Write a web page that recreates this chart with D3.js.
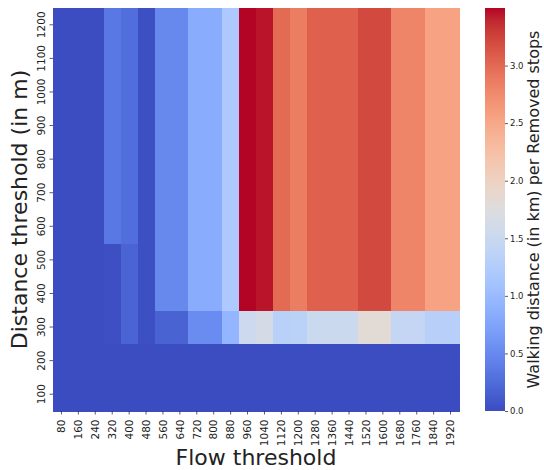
<!DOCTYPE html>
<html>
<head>
<meta charset="utf-8">
<script src="https://cdn.jsdelivr.net/npm/d3@7"></script>
<style>
  body { margin: 0; background: #fff; }
  text { font-family: "DejaVu Sans", sans-serif; fill: #222; }
</style>
</head>
<body>
<svg id="chart" width="544" height="470"></svg>
<script>
// Flow thresholds (columns) and distance thresholds in metres (rows)
const flowThresholds = [80, 160, 240, 320, 400, 480, 560, 640, 720, 800, 880, 960,
  1040, 1120, 1200, 1280, 1360, 1440, 1520, 1600, 1680, 1760, 1840, 1920];
const distanceThresholds = [100, 200, 300, 400, 500, 600, 700, 800, 900, 1000, 1100, 1200];

// Walking distance (km) per removed stop, one array per distance threshold
const walk100  = [0.00, 0.00, 0.00, 0.00, 0.00, 0.00, 0.00, 0.00, 0.00, 0.00, 0.00, 0.00, 0.00, 0.00, 0.00, 0.00, 0.00, 0.00, 0.00, 0.00, 0.00, 0.00, 0.00, 0.00];
const walk200  = [0.01, 0.01, 0.01, 0.01, 0.01, 0.01, 0.01, 0.01, 0.01, 0.01, 0.01, 0.01, 0.01, 0.01, 0.01, 0.01, 0.01, 0.01, 0.01, 0.01, 0.01, 0.01, 0.01, 0.01];
const walk300  = [0.01, 0.01, 0.01, 0.02, 0.19, 0.03, 0.18, 0.18, 0.52, 0.52, 0.94, 1.53, 1.63, 1.32, 1.35, 1.52, 1.52, 1.52, 1.82, 1.82, 1.44, 1.44, 1.31, 1.31];
const walk400  = [0.01, 0.01, 0.01, 0.02, 0.19, 0.03, 0.49, 0.49, 0.84, 0.84, 1.20, 3.50, 3.45, 2.99, 2.86, 3.06, 3.06, 3.06, 3.21, 3.21, 2.80, 2.80, 2.55, 2.55];
const walk500  = [0.01, 0.01, 0.01, 0.02, 0.19, 0.03, 0.49, 0.49, 0.84, 0.84, 1.20, 3.50, 3.45, 2.99, 2.86, 3.06, 3.06, 3.06, 3.21, 3.21, 2.80, 2.80, 2.55, 2.55];
const walk600  = [0.01, 0.01, 0.01, 0.35, 0.27, 0.03, 0.49, 0.49, 0.84, 0.84, 1.20, 3.50, 3.45, 2.99, 2.86, 3.06, 3.06, 3.06, 3.21, 3.21, 2.80, 2.80, 2.55, 2.55];
const walk700  = [0.01, 0.01, 0.01, 0.35, 0.27, 0.03, 0.49, 0.49, 0.84, 0.84, 1.20, 3.50, 3.45, 2.99, 2.86, 3.06, 3.06, 3.06, 3.21, 3.21, 2.80, 2.80, 2.55, 2.55];
const walk800  = [0.01, 0.01, 0.01, 0.35, 0.27, 0.03, 0.49, 0.49, 0.84, 0.84, 1.20, 3.50, 3.45, 2.99, 2.86, 3.06, 3.06, 3.06, 3.21, 3.21, 2.80, 2.80, 2.55, 2.55];
const walk900  = [0.01, 0.01, 0.01, 0.35, 0.27, 0.03, 0.49, 0.49, 0.84, 0.84, 1.20, 3.50, 3.45, 2.99, 2.86, 3.06, 3.06, 3.06, 3.21, 3.21, 2.80, 2.80, 2.55, 2.55];
const walk1000 = [0.01, 0.01, 0.01, 0.35, 0.27, 0.03, 0.49, 0.49, 0.84, 0.84, 1.20, 3.50, 3.45, 2.99, 2.86, 3.06, 3.06, 3.06, 3.21, 3.21, 2.80, 2.80, 2.55, 2.55];
const walk1100 = [0.01, 0.01, 0.01, 0.35, 0.27, 0.03, 0.49, 0.49, 0.84, 0.84, 1.20, 3.50, 3.45, 2.99, 2.86, 3.06, 3.06, 3.06, 3.21, 3.21, 2.80, 2.80, 2.55, 2.55];
const walk1200 = [0.01, 0.01, 0.01, 0.35, 0.27, 0.03, 0.49, 0.49, 0.84, 0.84, 1.20, 3.50, 3.45, 2.99, 2.86, 3.06, 3.06, 3.06, 3.21, 3.21, 2.80, 2.80, 2.55, 2.55];

const colorbarTicks = [0, 0.5, 1.0, 1.5, 2.0, 2.5, 3.0];

const walkRows = [walk100, walk200, walk300, walk400, walk500, walk600,
  walk700, walk800, walk900, walk1000, walk1100, walk1200];

// Cell table built from the arrays above
const cells = [];
distanceThresholds.forEach((d, i) => {
  flowThresholds.forEach((f, j) => cells.push({ flow: f, dist: d, value: walkRows[i][j] }));
});

// Diverging cool-warm colour map (Moreland control points)
const coolwarmStops = [
  [59,76,192],[68,90,204],[77,104,215],[87,117,225],[98,130,234],[108,142,241],
  [119,154,247],[130,165,251],[141,176,254],[152,185,255],[163,194,255],[174,201,253],
  [184,208,249],[194,213,244],[204,217,238],[213,219,230],[221,221,221],[229,216,209],
  [236,211,197],[241,204,185],[245,196,173],[247,187,160],[247,177,148],[247,166,135],
  [244,154,123],[241,141,111],[236,127,99],[229,112,88],[222,96,77],[213,80,66],
  [203,62,56],[192,40,47],[180,4,38]
].map(c => d3.rgb(c[0], c[1], c[2]).formatHex());
const coolwarm = d3.piecewise(d3.interpolateRgb, coolwarmStops);

const vMax = d3.max(cells, c => c.value);
const color = d3.scaleSequential(coolwarm).domain([0, vMax]);

const svg = d3.select("#chart");
const plot = { left: 53, right: 459, top: 8, bottom: 411 };

const x = d3.scaleBand().domain(flowThresholds).range([plot.left, plot.right]);
const y = d3.scaleBand().domain(distanceThresholds).range([plot.bottom, plot.top]);

// Heatmap cells
svg.append("g")
  .attr("shape-rendering", "crispEdges")
  .selectAll("rect")
  .data(cells)
  .join("rect")
  .attr("x", d => x(d.flow))
  .attr("y", d => y(d.dist))
  .attr("width", x.bandwidth() + 0.6)
  .attr("height", y.bandwidth() + 0.6)
  .attr("fill", d => color(d.value));

// Axes
const xAxis = svg.append("g")
  .attr("transform", `translate(0,${plot.bottom})`)
  .call(d3.axisBottom(x).tickSize(3.5).tickSizeOuter(0));
xAxis.select(".domain").remove();
xAxis.selectAll(".tick line").attr("stroke", "#333").attr("stroke-width", 0.8);
xAxis.selectAll(".tick text")
  .attr("font-size", 10.5)
  .attr("fill", "#222")
  .attr("x", 0).attr("y", 0).attr("dy", "0.36em")
  .attr("text-anchor", "end")
  .attr("transform", "translate(0,8.5) rotate(-90)");

const yAxis = svg.append("g")
  .attr("transform", `translate(${plot.left},0)`)
  .call(d3.axisLeft(y).tickSize(3.5).tickSizeOuter(0));
yAxis.select(".domain").remove();
yAxis.selectAll(".tick line").attr("stroke", "#333").attr("stroke-width", 0.8);
yAxis.selectAll(".tick text")
  .attr("font-size", 10.5)
  .attr("fill", "#222")
  .attr("x", 0).attr("y", 0).attr("dy", 0)
  .attr("text-anchor", "middle")
  .attr("transform", "translate(-7.7,0) rotate(-90)");

// Axis titles
svg.append("text")
  .attr("x", (plot.left + plot.right) / 2)
  .attr("y", 465)
  .attr("text-anchor", "middle")
  .attr("font-size", 22)
  .text("Flow threshold");

svg.append("text")
  .attr("transform", `translate(26.5,${(plot.top + plot.bottom) / 2}) rotate(-90)`)
  .attr("text-anchor", "middle")
  .attr("font-size", 22)
  .text("Distance threshold (in m)");

// Colour bar
const cb = { left: 485, width: 20 };
const cbScale = d3.scaleLinear().domain([0, vMax]).range([plot.bottom, plot.top]);

const grad = svg.append("defs").append("linearGradient")
  .attr("id", "cbGrad")
  .attr("x1", 0).attr("y1", 1).attr("x2", 0).attr("y2", 0);
grad.selectAll("stop")
  .data(d3.range(0, 1.0001, 1 / 64))
  .join("stop")
  .attr("offset", t => t)
  .attr("stop-color", t => coolwarm(t));

svg.append("rect")
  .attr("x", cb.left)
  .attr("y", plot.top)
  .attr("width", cb.width)
  .attr("height", plot.bottom - plot.top)
  .attr("fill", "url(#cbGrad)");

const cbAxis = svg.append("g")
  .attr("transform", `translate(${cb.left + cb.width},0)`)
  .call(d3.axisRight(cbScale).tickValues(colorbarTicks).tickFormat(d3.format(".1f"))
    .tickSize(3).tickPadding(2));
cbAxis.select(".domain").remove();
cbAxis.selectAll(".tick line").attr("stroke", "#333").attr("stroke-width", 0.8);
cbAxis.selectAll(".tick text").attr("font-size", 8.5).attr("fill", "#222");

svg.append("text")
  .attr("transform", `translate(539,${(plot.top + plot.bottom) / 2}) rotate(-90)`)
  .attr("text-anchor", "middle")
  .attr("font-size", 16)
  .text("Walking distance (in km) per Removed stops");
</script>
</body>
</html>
